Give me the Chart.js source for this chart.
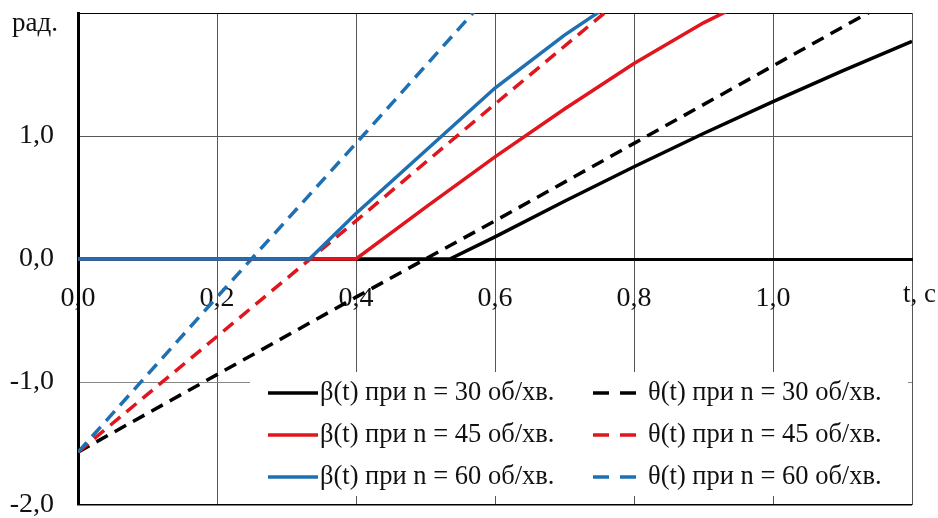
<!DOCTYPE html>
<html>
<head>
<meta charset="utf-8">
<script src="https://cdn.jsdelivr.net/npm/chart.js@4"></script>
<style>
  html, body { margin: 0; padding: 0; background: #fff; }
  canvas { display: block; }
</style>
</head>
<body>
<canvas id="angleChart" width="938" height="518"></canvas>
<script>
// час t, c і кути, рад.
var betaT30 = [0, 0.535, 0.6, 0.7, 0.8, 0.9, 1.0, 1.1, 1.2];
var beta30 = [0, 0, 0.18, 0.47, 0.75, 1.02, 1.28, 1.53, 1.77];
var betaT45 = [0, 0.4, 0.5, 0.6, 0.7, 0.8, 0.9, 1.0];
var beta45 = [0, 0, 0.42, 0.83, 1.22, 1.59, 1.92, 2.2];
var betaT60 = [0, 0.333, 0.4, 0.5, 0.6, 0.7, 0.8];
var beta60 = [0, 0, 0.37, 0.88, 1.39, 1.82, 2.2];

var thetaT30 = [0, 0.2, 0.4, 0.6, 0.8, 1.0, 1.2];
var theta30 = [-1.57, -0.94, -0.31, 0.31, 0.94, 1.57, 2.2];
var thetaT45 = [0, 0.2, 0.4, 0.6, 0.8];
var theta45 = [-1.57, -0.63, 0.31, 1.26, 2.2];
var thetaT60 = [0, 0.2, 0.4, 0.6];
var theta60 = [-1.57, -0.31, 0.94, 2.2];

var xTicks = [0, 0.2, 0.4, 0.6, 0.8, 1.0, 1.2];
var yTicks = [-2, -1, 0, 1, 2];
var legendLabels = [
    ['β(t) при n = 30 об/хв.', 'θ(t) при n = 30 об/хв.'],
    ['β(t) при n = 45 об/хв.', 'θ(t) при n = 45 об/хв.'],
    ['β(t) при n = 60 об/хв.', 'θ(t) при n = 60 об/хв.']
];

var BLACK = '#000000';
var RED = '#e0161e';
var BLUE = '#1f70b2';
var rowColors = [BLACK, RED, BLUE];
var FONT = '"Liberation Serif", "Times New Roman", serif';

function pts(xs, ys) {
    return xs.map(function (x, i) { return { x: x, y: ys[i] }; });
}

function series(label, xs, ys, color, dashed) {
    return {
        label: label,
        data: pts(xs, ys),
        borderColor: color,
        backgroundColor: color,
        borderWidth: 3.5,
        borderDash: dashed ? [13, 8] : [],
        pointRadius: 0,
        tension: 0,
        clip: 0
    };
}

// легенда і підписи осей
var annotate = {
    id: 'annotate',
    beforeDatasetsDraw: function (chart) {
        var ctx = chart.ctx;
        ctx.save();
        ctx.fillStyle = '#fff';
        ctx.fillRect(250, 372, 658, 124);
        ctx.font = '26.5px ' + FONT;
        ctx.textBaseline = 'middle';
        ctx.textAlign = 'left';
        for (var r = 0; r < 3; r++) {
            var y = 393 + r * 42;
            ctx.strokeStyle = rowColors[r];
            ctx.lineWidth = 3.5;
            ctx.setLineDash([]);
            ctx.beginPath();
            ctx.moveTo(268, y);
            ctx.lineTo(318, y);
            ctx.stroke();
            ctx.setLineDash([16, 11]);
            ctx.beginPath();
            ctx.moveTo(593, y);
            ctx.lineTo(637, y);
            ctx.stroke();
            ctx.fillStyle = '#111';
            ctx.fillText(legendLabels[r][0], 320, y);
            ctx.fillText(legendLabels[r][1], 648, y);
        }
        ctx.restore();
    },
    afterDraw: function (chart) {
        var ctx = chart.ctx;
        ctx.save();
        ctx.font = '27px ' + FONT;
        ctx.fillStyle = '#111';
        ctx.textBaseline = 'middle';
        ctx.textAlign = 'left';
        ctx.fillText('рад.', 12, 24);
        ctx.fillText('t, c', 903, 295);
        ctx.restore();
    }
};

var ctx = document.getElementById('angleChart').getContext('2d');
var angleChart = new Chart(ctx, {
    type: 'line',
    data: {
        datasets: [
            series('β(t) при n = 60 об/хв.', betaT60, beta60, BLUE, false),
            series('β(t) при n = 45 об/хв.', betaT45, beta45, RED, false),
            series('β(t) при n = 30 об/хв.', betaT30, beta30, BLACK, false),
            series('θ(t) при n = 60 об/хв.', thetaT60, theta60, BLUE, true),
            series('θ(t) при n = 45 об/хв.', thetaT45, theta45, RED, true),
            series('θ(t) при n = 30 об/хв.', thetaT30, theta30, BLACK, true)
        ]
    },
    options: {
        responsive: false,
        animation: false,
        devicePixelRatio: 1,
        layout: { padding: { left: 0, top: 13, right: 26, bottom: 13 } },
        plugins: {
            legend: { display: false },
            tooltip: { enabled: false }
        },
        scales: {
            x: {
                type: 'linear',
                position: { y: 0 },
                min: 0,
                max: 1.2,
                afterFit: function (scale) {
                    scale.height = 0;
                    scale.paddingLeft = 0;
                    scale.paddingRight = 0;
                },
                afterBuildTicks: function (scale) {
                    scale.ticks = xTicks.map(function (v) { return { value: v }; });
                },
                grid: {
                    color: '#555',
                    lineWidth: 1,
                    drawTicks: false
                },
                border: { display: true, color: '#000', width: 3 },
                ticks: {
                    padding: 23,
                    color: '#111',
                    font: { family: FONT, size: 28 },
                    maxRotation: 0,
                    autoSkip: false,
                    callback: function (v) {
                        if (Math.abs(v - 1.2) < 1e-6) return '';
                        return v.toFixed(1).replace('.', ',');
                    }
                }
            },
            y: {
                type: 'linear',
                min: -2,
                max: 2,
                afterFit: function (scale) {
                    scale.width = 78;
                    scale.paddingTop = 0;
                    scale.paddingBottom = 0;
                },
                afterBuildTicks: function (scale) {
                    scale.ticks = yTicks.map(function (v) { return { value: v }; });
                },
                grid: {
                    color: function (c) {
                        var v = c.tick ? c.tick.value : 0;
                        if (v === 2 || v === -2) return '#000';
                        if (v === -1) return '#888';
                        return '#555';
                    },
                    lineWidth: function (c) {
                        var v = c.tick ? c.tick.value : 0;
                        return v === -2 ? 1.5 : 1;
                    },
                    drawTicks: false
                },
                border: { display: true, color: '#000', width: 3 },
                ticks: {
                    padding: 24,
                    color: '#111',
                    font: { family: FONT, size: 28 },
                    autoSkip: false,
                    callback: function (v) {
                        if (v === 2) return '';
                        return v.toFixed(1).replace('.', ',');
                    }
                }
            }
        }
    },
    plugins: [annotate]
});
</script>
</body>
</html>
